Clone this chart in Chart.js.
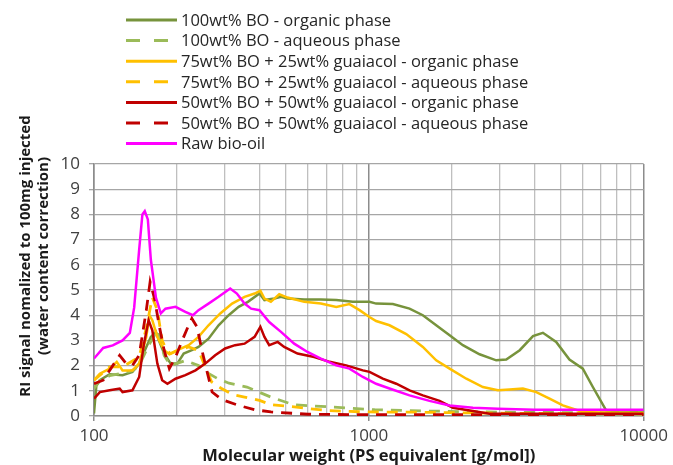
<!DOCTYPE html>
<html>
<head>
<meta charset="utf-8">
<title>Molecular weight distribution</title>
<script src="https://cdn.jsdelivr.net/npm/chart.js@4.4.1/dist/chart.umd.min.js"></script>
<style>
  html, body { margin: 0; padding: 0; background: #fff; }
  #wrap { width: 673px; height: 465px; }
</style>
</head>
<body>
<div id="wrap"><canvas id="mwdChart" width="673" height="465"></canvas></div>
<script>
// GPC traces, molecular weight in g/mol (PS equivalent) vs. normalised RI signal
const bo100OrgMw = [100, 102, 105, 114, 127, 138, 146, 155, 161, 168, 173, 180, 190, 201, 212, 227, 240, 261, 284, 309, 336, 363, 400, 417, 453, 479, 506, 582, 669, 761, 874, 1005, 1063, 1223, 1406, 1572, 1758, 1967, 2198, 2528, 2907, 3162, 3539, 3956, 4298, 4803, 5368, 6004, 6531, 7300, 7720, 10000];
const bo100OrgRi = [0.1, 1.2, 1.42, 1.66, 1.62, 1.75, 2.08, 2.74, 3.14, 3.34, 2.94, 2.48, 2.08, 2.08, 2.48, 2.61, 2.74, 3.07, 3.6, 4.0, 4.33, 4.53, 4.86, 4.6, 4.66, 4.73, 4.66, 4.62, 4.62, 4.6, 4.53, 4.53, 4.46, 4.44, 4.26, 4.0, 3.6, 3.2, 2.81, 2.45, 2.21, 2.24, 2.61, 3.17, 3.3, 2.94, 2.24, 1.88, 1.15, 0.22, 0.16, 0.15];

const bo100AqMw = [100, 105, 114, 127, 138, 146, 158, 170, 180, 190, 215, 240, 260, 280, 310, 360, 440, 530, 670, 1050, 1600, 3000, 10000];
const bo100AqRi = [1.1, 1.4, 1.6, 1.7, 1.8, 2.0, 2.8, 3.4, 2.4, 2.0, 2.2, 2.0, 1.7, 1.5, 1.3, 1.15, 0.75, 0.45, 0.38, 0.25, 0.2, 0.15, 0.12];

const bo75OrgMw = [100, 105, 114, 121, 127, 138, 146, 155, 159, 163, 170, 180, 188, 201, 221, 240, 261, 288, 318, 353, 384, 403, 417, 440, 472, 506, 582, 669, 761, 850, 925, 1005, 1063, 1189, 1368, 1572, 1758, 1967, 2263, 2600, 2949, 3250, 3635, 4067, 4543, 5079, 5524, 6004, 7000, 10000];
const bo75OrgRi = [1.42, 1.68, 1.88, 2.15, 1.81, 1.81, 2.08, 3.14, 4.0, 3.8, 3.14, 2.61, 2.45, 2.61, 2.81, 3.14, 3.6, 4.07, 4.46, 4.73, 4.86, 4.97, 4.66, 4.53, 4.83, 4.7, 4.53, 4.46, 4.33, 4.44, 4.2, 3.93, 3.77, 3.6, 3.25, 2.74, 2.21, 1.88, 1.48, 1.15, 1.02, 1.05, 1.09, 0.95, 0.69, 0.42, 0.29, 0.16, 0.14, 0.12];

const bo75AqMw = [100, 114, 127, 146, 155, 163, 170, 177, 184, 190, 201, 221, 240, 254, 268, 290, 320, 353, 400, 440, 535, 600, 700, 850, 1000, 1500, 2500, 4000, 10000];
const bo75AqRi = [1.42, 1.95, 1.95, 2.34, 3.5, 4.7, 4.2, 3.0, 2.6, 2.48, 2.6, 2.74, 2.6, 1.95, 1.35, 1.1, 0.85, 0.75, 0.62, 0.45, 0.36, 0.3, 0.22, 0.18, 0.16, 0.15, 0.12, 0.1, 0.08];

const bo50OrgMw = [100, 105, 114, 124, 127, 138, 146, 152, 158, 163, 170, 177, 185, 198, 215, 234, 254, 276, 300, 326, 353, 384, 403, 417, 434, 466, 492, 550, 633, 720, 827, 951, 1006, 1124, 1258, 1406, 1572, 1808, 2022, 2391, 2750, 3500, 5000, 10000];
const bo50OrgRi = [0.69, 0.95, 1.02, 1.09, 0.95, 1.02, 1.55, 2.87, 3.8, 3.4, 2.08, 1.42, 1.28, 1.48, 1.62, 1.81, 2.08, 2.41, 2.68, 2.81, 2.87, 3.14, 3.54, 3.14, 2.81, 2.94, 2.74, 2.48, 2.34, 2.15, 2.01, 1.81, 1.75, 1.48, 1.28, 1.02, 0.82, 0.6, 0.33, 0.2, 0.09, 0.09, 0.09, 0.09];

const bo50AqMw = [100, 108, 114, 124, 131, 138, 146, 155, 160, 166, 173, 180, 188, 198, 212, 221, 227, 237, 247, 258, 269, 292, 336, 384, 440, 600, 1000, 10000];
const bo50AqRi = [1.28, 1.42, 1.81, 2.41, 2.08, 2.01, 2.41, 4.2, 5.32, 4.66, 3.54, 2.61, 1.88, 2.34, 3.14, 3.6, 3.87, 3.54, 2.61, 1.75, 0.95, 0.65, 0.42, 0.25, 0.16, 0.07, 0.05, 0.05];

const rawMw = [100, 108, 117, 127, 135, 140, 146, 150, 153, 157, 161, 168, 175, 182, 198, 215, 229, 240, 261, 284, 313, 331, 353, 373, 400, 434, 479, 535, 598, 669, 761, 850, 951, 1063, 1189, 1406, 1662, 1967, 2391, 2949, 4000, 10000];
const rawRi = [2.28, 2.7, 2.8, 3.0, 3.3, 4.3, 6.6, 8.0, 8.13, 7.8, 6.2, 4.7, 4.07, 4.26, 4.33, 4.13, 4.0, 4.2, 4.46, 4.73, 5.06, 4.86, 4.46, 4.26, 4.2, 3.73, 3.34, 2.87, 2.54, 2.28, 2.01, 1.88, 1.55, 1.28, 1.09, 0.82, 0.6, 0.42, 0.33, 0.29, 0.25, 0.25];

const seriesLabels = [
  "100wt% BO - organic phase",
  "100wt% BO - aqueous phase",
  "75wt% BO + 25wt% guaiacol - organic phase",
  "75wt% BO + 25wt% guaiacol - aqueous phase",
  "50wt% BO + 50wt% guaiacol - organic phase",
  "50wt% BO + 50wt% guaiacol - aqueous phase",
  "Raw bio-oil",
];

// grid positions on the log axis, labelled only at the decades
const mwGrid = [100, 200, 300, 400, 500, 600, 700, 800, 900, 1000, 2000, 3000, 4000, 5000, 6000, 7000, 8000, 9000, 10000];
const mwDecades = [100, 1000, 10000];

const yTitleLines = ["RI signal nomalized to 100mg injected", "(water content correction)"];
const xTitle = "Molecular weight (PS equivalent [g/mol])";

const OLIVE = "#77933c";
const LIGHT_GREEN = "#9bbb59";
const AMBER = "#ffc000";
const DARK_RED = "#c00000";
const MAGENTA = "#ff00ff";
const DASH = [11, 8];

function toPoints(mw, ri) {
  return mw.map((x, i) => ({ x: x, y: ri[i] }));
}

function makeSeries(idx, mw, ri, color, dashed) {
  return {
    label: seriesLabels[idx],
    data: toPoints(mw, ri),
    borderColor: color,
    backgroundColor: color,
    borderWidth: dashed ? 2.8 : 2.5,
    borderDash: dashed ? DASH : [],
    pointRadius: 0,
    tension: 0,
    fill: false,
    // later series sit on top
    order: 10 - idx,
  };
}

const datasets = [
  makeSeries(0, bo100OrgMw, bo100OrgRi, OLIVE, false),
  makeSeries(1, bo100AqMw, bo100AqRi, LIGHT_GREEN, true),
  makeSeries(2, bo75OrgMw, bo75OrgRi, AMBER, false),
  makeSeries(3, bo75AqMw, bo75AqRi, AMBER, true),
  makeSeries(4, bo50OrgMw, bo50OrgRi, DARK_RED, false),
  makeSeries(5, bo50AqMw, bo50AqRi, DARK_RED, true),
  makeSeries(6, rawMw, rawRi, MAGENTA, false),
];

// stacked legend in the space above the plot
const stackedLegend = {
  id: "stackedLegend",
  afterDraw(chart) {
    const ctx = chart.ctx;
    ctx.save();
    ctx.font = '16.5px "Open Sans"';
    ctx.textBaseline = "middle";
    ctx.textAlign = "left";
    chart.data.datasets.forEach((ds, i) => {
      const y = 20 + i * 20.6;
      ctx.strokeStyle = ds.borderColor;
      ctx.lineWidth = 3;
      ctx.setLineDash(ds.borderDash.length ? [14, 14] : []);
      ctx.beginPath();
      ctx.moveTo(126, y);
      ctx.lineTo(177, y);
      ctx.stroke();
      ctx.fillStyle = "#262626";
      ctx.fillText(ds.label, 181, y + 1);
    });
    ctx.restore();
  },
};

// two-line rotated title for the signal axis
const signalTitle = {
  id: "signalTitle",
  afterDraw(chart) {
    const ctx = chart.ctx;
    ctx.save();
    ctx.translate(26, 256);
    ctx.rotate(-Math.PI / 2);
    ctx.font = 'bold 15px "Open Sans"';
    ctx.fillStyle = "#1a1a1a";
    ctx.textAlign = "center";
    ctx.textBaseline = "middle";
    yTitleLines.forEach((line, i) => ctx.fillText(line, 0, i * 17.5));
    ctx.restore();
  },
};

const ctx = document.getElementById("mwdChart");

new Chart(ctx, {
  type: "line",
  data: { datasets: datasets },
  options: {
    responsive: false,
    animation: false,
    devicePixelRatio: 1,
    layout: { padding: { top: 164, right: 25, left: 0, bottom: 0 } },
    plugins: {
      legend: { display: false },
      tooltip: { enabled: false },
    },
    scales: {
      x: {
        type: "logarithmic",
        min: 100,
        max: 10000,
        afterBuildTicks: (scale) => {
          scale.ticks = mwGrid.map((v) => ({ value: v, major: mwDecades.includes(v) }));
        },
        afterFit: (scale) => {
          scale.height = 49;
        },
        ticks: {
          autoSkip: false,
          maxRotation: 0,
          padding: 5,
          color: "#404040",
          font: { family: "Open Sans", size: 17 },
          callback: (value) => (mwDecades.includes(value) ? String(value) : ""),
        },
        grid: {
          color: (c) => (c.tick && mwDecades.includes(c.tick.value) ? "#8c8c8c" : "#bfbfbf"),
          tickColor: (c) => (c.tick && mwDecades.includes(c.tick.value) ? "#8c8c8c" : "rgba(0,0,0,0)"),
          lineWidth: (c) => (c.tick && mwDecades.includes(c.tick.value) ? 1.5 : 1.3),
          tickLength: 5,
        },
        border: { color: "#8c8c8c", width: 1.5 },
        title: {
          display: true,
          text: xTitle,
          color: "#1a1a1a",
          font: { family: "Open Sans", size: 16.5, weight: "bold", lineHeight: 1.1 },
          padding: { top: 0, bottom: 0 },
        },
      },
      y: {
        min: 0,
        max: 10,
        afterFit: (scale) => {
          scale.width = 94;
        },
        ticks: {
          stepSize: 1,
          padding: 9,
          color: "#404040",
          font: { family: "Open Sans", size: 17 },
        },
        grid: {
          color: "#a6a6a6",
          lineWidth: 1.3,
          tickLength: 5,
        },
        border: { color: "#8c8c8c", width: 1.5 },
      },
    },
  },
  plugins: [stackedLegend, signalTitle],
});
</script>
</body>
</html>
